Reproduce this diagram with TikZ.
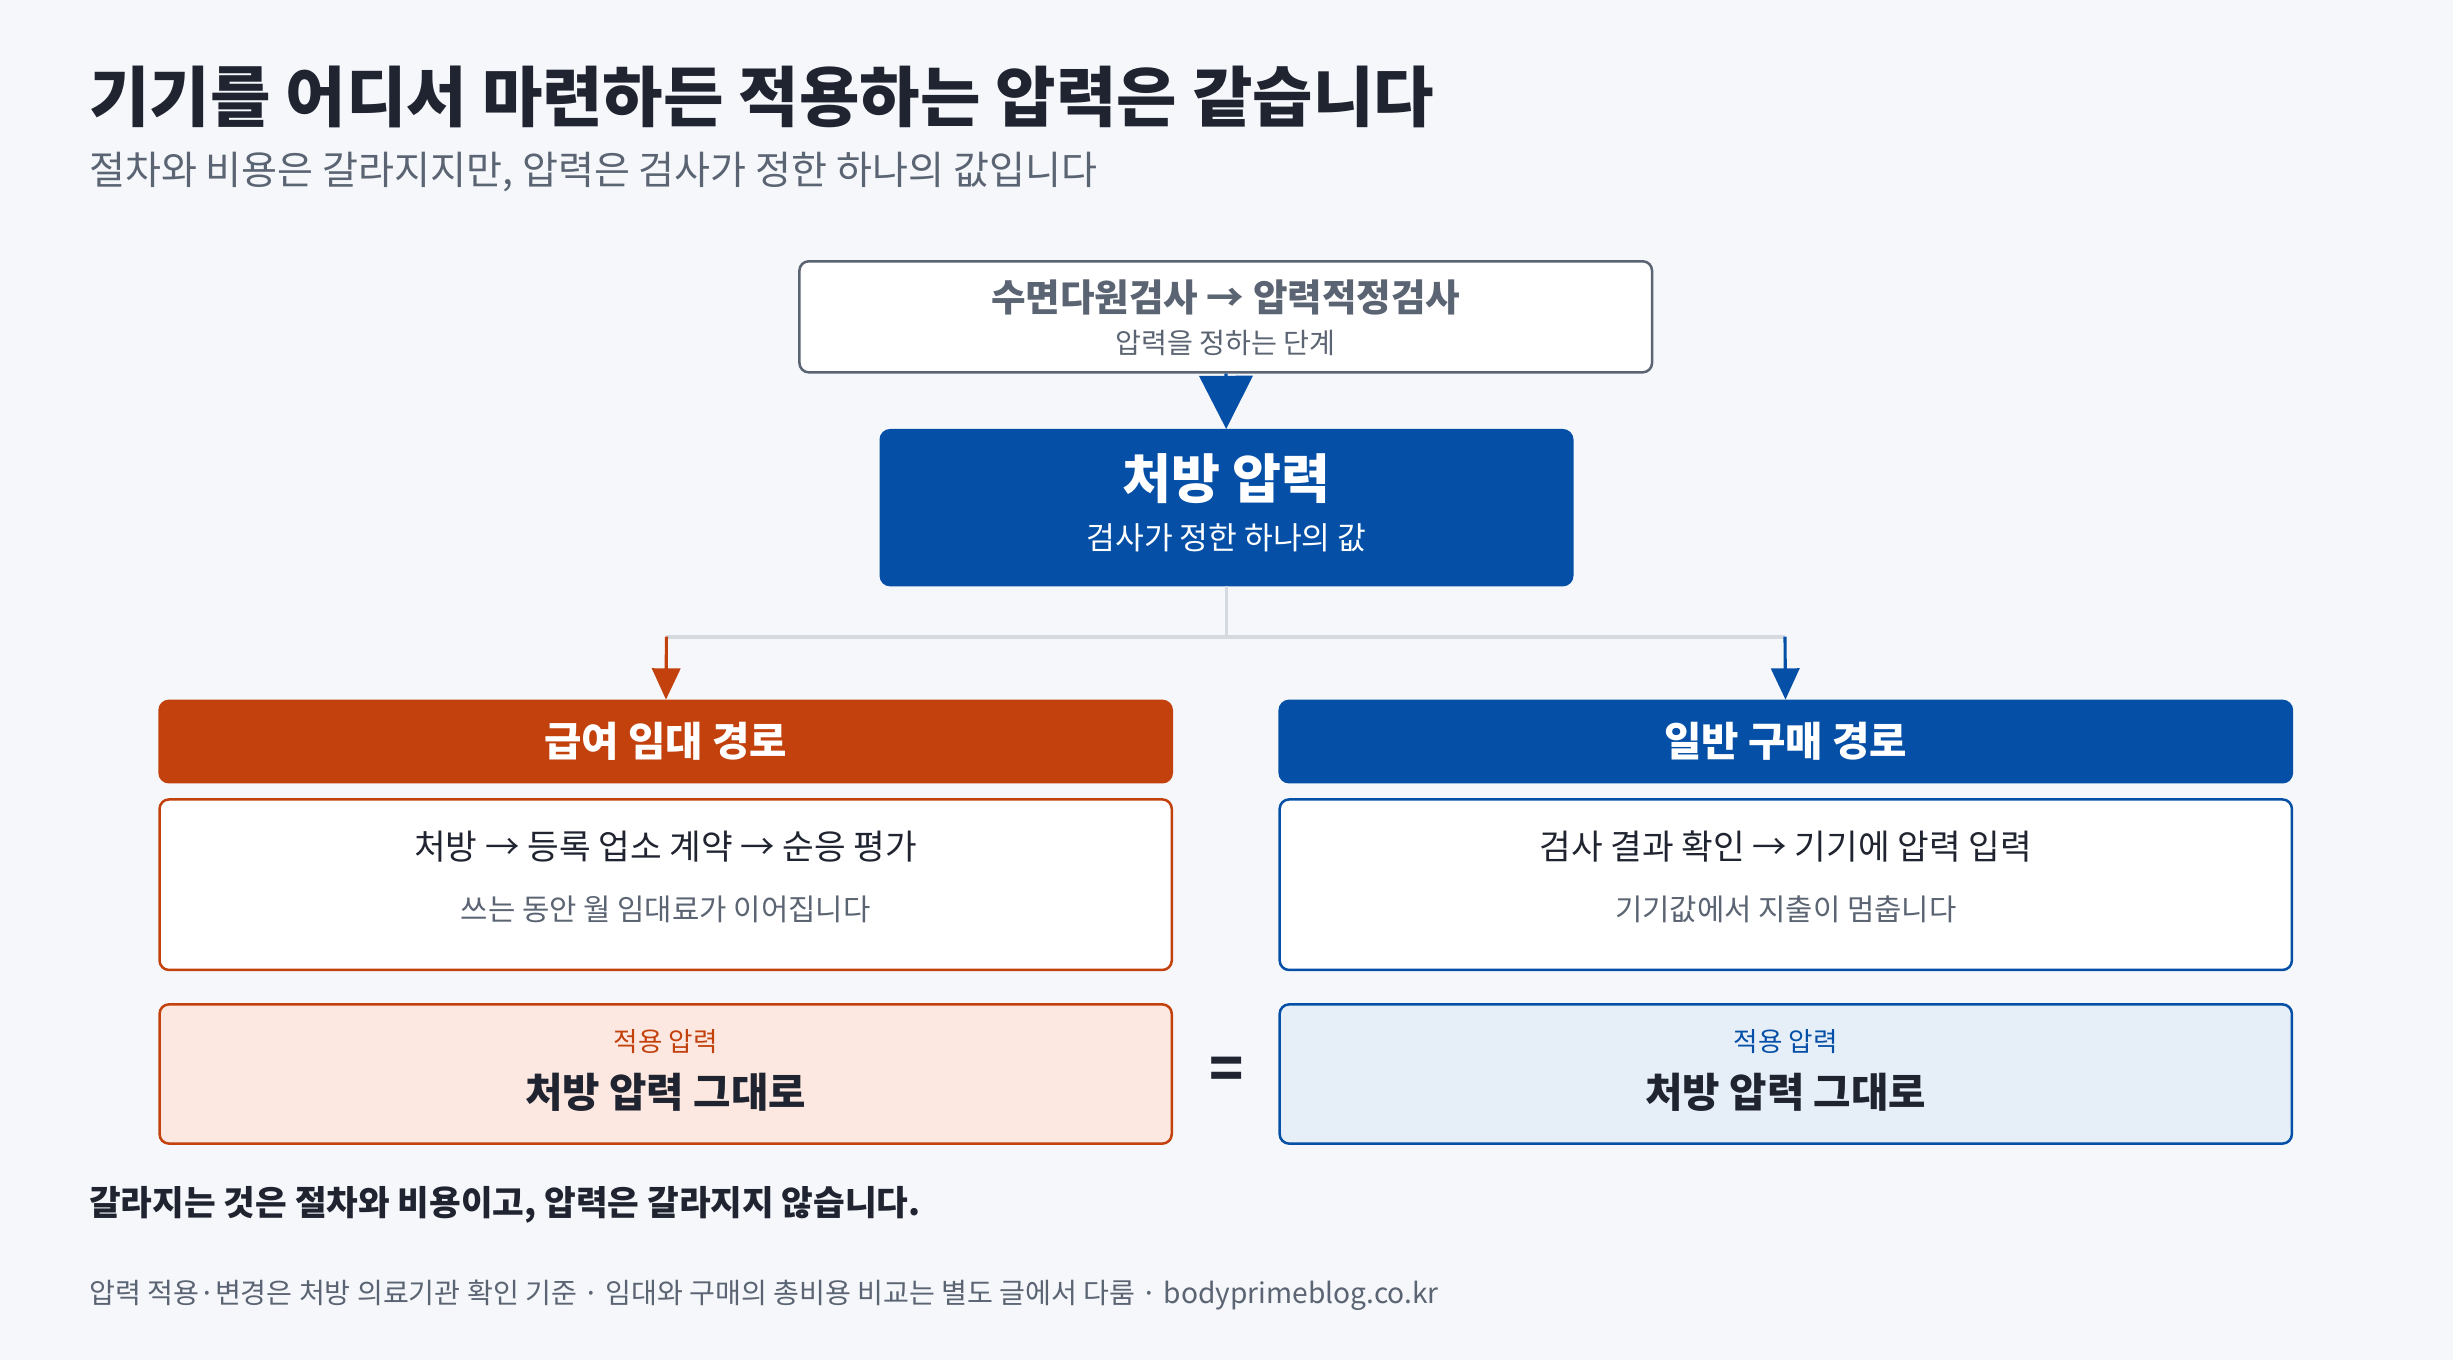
\documentclass[tikz,border=0pt]{standalone}
\usepackage{fontspec}
\setmainfont{Noto Sans CJK KR}
\usetikzlibrary{positioning,arrows.meta}
\definecolor{bgc}{HTML}{F5F7FB}
\definecolor{ink}{HTML}{1F2430}
\definecolor{greyt}{HTML}{5B6472}
\definecolor{bluec}{HTML}{0550A6}
\definecolor{orangec}{HTML}{C2410C}
\definecolor{orangel}{HTML}{FCE8E0}
\definecolor{bluel}{HTML}{E6EEF8}
\definecolor{linec}{HTML}{D5DAE1}
\tikzset{
  box/.style={draw, rounded corners=3pt, line width=0.8pt, inner sep=0pt},
  head/.style={box, text=white, font=\bfseries\fontsize{13}{15}\selectfont},
  tip/.style={-{Triangle[width=9pt,length=10pt]}, line width=1pt}
}
\begin{document}
\begin{tikzpicture}[x=0.5pt, y=-0.5pt]
  \fill[bgc] (0,0) rectangle (1568,869);
  \useasboundingbox (0,0) rectangle (1568,869);
  % Titles
  \node[anchor=west, text=ink, font=\bfseries\fontsize{21}{25}\selectfont] (title) at (50,62) {기기를 어디서 마련하든 적용하는 압력은 같습니다};
  \node[anchor=west, text=greyt, font=\fontsize{12.5}{15}\selectfont] (sub) at (50,110) {절차와 비용은 갈라지지만, 압력은 검사가 정한 하나의 값입니다};
  % Nodes
  \node[box, draw=greyt, fill=white, minimum width=272.5pt, minimum height=35.5pt] (test) at (783.5,202.5) {};
  \node[text=greyt, font=\bfseries\fontsize{12}{14}\selectfont] at (783.5,190) {수면다원검사 → 압력적정검사};
  \node[text=greyt, font=\fontsize{9}{11}\selectfont] at (783.5,219) {압력을 정하는 단계};
  \node[box, draw=bluec, fill=bluec, minimum width=221pt, minimum height=49.5pt] (rx) at (784,324.5) {};
  \node[text=white, font=\bfseries\fontsize{17}{20}\selectfont] at (784,306) {처방 압력};
  \node[text=white, font=\fontsize{10}{12}\selectfont] at (784,344) {검사가 정한 하나의 값};
  \node[head, draw=orangec, fill=orangec, minimum width=323.5pt, minimum height=26pt] (rent) at (425.5,474) {급여 임대 경로};
  \node[head, draw=bluec, fill=bluec, minimum width=323.5pt, minimum height=26pt] (buy) at (1141.5,474) {일반 구매 경로};
  \node[box, draw=orangec, fill=white, minimum width=323.5pt, minimum height=54.5pt] (rentstep) at (425.5,565.5) {};
  \node[text=ink, font=\fontsize{11}{13}\selectfont] at (425.5,541) {처방 → 등록 업소 계약 → 순응 평가};
  \node[text=greyt, font=\fontsize{9.5}{11}\selectfont] at (425.5,581) {쓰는 동안 월 임대료가 이어집니다};
  \node[box, draw=bluec, fill=white, minimum width=323.5pt, minimum height=54.5pt] (buystep) at (1141.5,565.5) {};
  \node[text=ink, font=\fontsize{11}{13}\selectfont] at (1141.5,541) {검사 결과 확인 → 기기에 압력 입력};
  \node[text=greyt, font=\fontsize{9.5}{11}\selectfont] at (1141.5,581) {기기값에서 지출이 멈춥니다};
  \node[box, draw=orangec, fill=orangel, minimum width=323.5pt, minimum height=44.5pt] (rentp) at (425.5,686.5) {};
  \node[text=orangec, font=\fontsize{8.5}{10}\selectfont] at (425.5,666) {적용 압력};
  \node[text=ink, font=\bfseries\fontsize{13}{15}\selectfont] at (425.5,698) {처방 압력 그대로};
  \node[box, draw=bluec, fill=bluel, minimum width=323.5pt, minimum height=44.5pt] (buyp) at (1141.5,686.5) {};
  \node[text=bluec, font=\fontsize{8.5}{10}\selectfont] at (1141.5,666) {적용 압력};
  \node[text=ink, font=\bfseries\fontsize{13}{15}\selectfont] at (1141.5,698) {처방 압력 그대로};
  \node[text=ink, font=\bfseries\fontsize{18}{20}\selectfont] (eq) at (784,686) {=};
  % Connectors
  \coordinate (fork) at (784,407);
  \coordinate (lfork) at (426,407);
  \coordinate (rfork) at (1141,407);
  \draw[-{Triangle[width=17pt,length=17pt]}, bluec, line width=1pt] (test) -- (rx);
  \draw[linec, line width=1.2pt] (rx) -- (fork) (lfork) -- (rfork);
  \draw[tip, orangec] (lfork) -- (rent);
  \draw[tip, bluec] (rfork) -- (buy);
  % Footer
  \node[anchor=west, text=ink, font=\bfseries\fontsize{11}{13}\selectfont] (note) at (50,770) {갈라지는 것은 절차와 비용이고, 압력은 갈라지지 않습니다.};
  \node[anchor=west, text=greyt, font=\fontsize{9}{11}\selectfont] (foot) at (50,828) {압력 적용·변경은 처방 의료기관 확인 기준 · 임대와 구매의 총비용 비교는 별도 글에서 다룸 · bodyprimeblog.co.kr};
\end{tikzpicture}
\end{document}
